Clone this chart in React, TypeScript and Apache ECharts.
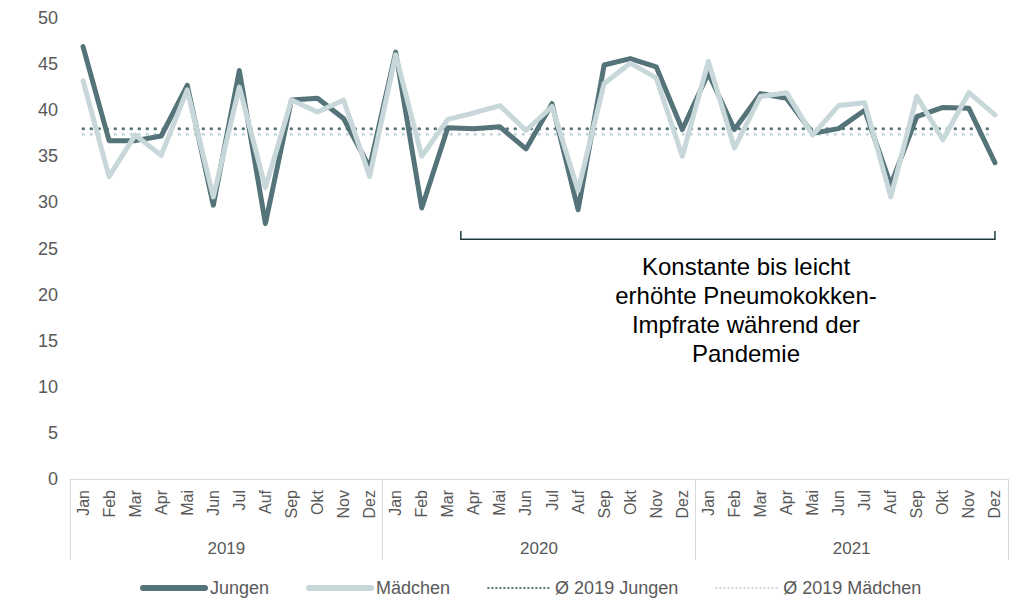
import React, { useEffect, useRef } from "react";
import * as echarts from "echarts";

const MONTHS = ["Jan", "Feb", "Mar", "Apr", "Mai", "Jun", "Jul", "Auf", "Sep", "Okt", "Nov", "Dez"];
const YEARS = ["2019", "2020", "2021"];
const JUNGEN = [
  46.9, 36.7, 36.7, 37.2, 42.7, 29.7, 44.3, 27.7, 41.1, 41.3, 39.1, 33.8,
  46.3, 29.4, 38.1, 38.0, 38.2, 35.8, 40.7, 29.2, 44.9, 45.6, 44.7, 37.9,
  44.0, 37.9, 41.8, 41.3, 37.5, 38.0, 40.0, 31.9, 39.3, 40.3, 40.2, 34.3,
];
const MAEDCHEN = [
  43.2, 32.8, 37.3, 35.1, 42.2, 30.6, 42.5, 31.6, 41.1, 39.8, 41.1, 32.8,
  46.0, 35.0, 39.0, 39.7, 40.5, 37.8, 40.4, 31.3, 42.9, 45.1, 43.5, 35.0,
  45.3, 35.9, 41.5, 41.9, 37.3, 40.5, 40.8, 30.6, 41.5, 36.8, 41.9, 39.5,
];
const AVG_JUNGEN_2019 = 38.0;
const AVG_MAEDCHEN_2019 = 37.4;
const ANNOTATION = "Konstante bis leicht\nerhöhte Pneumokokken-\nImpfrate während der\nPandemie";

const DARK = "#557479";
const LIGHT = "#c8d8da";
const GRAY = "#595959";
const FONT = "Liberation Sans, Arial, sans-serif";

export default function App() {
  const ref = useRef<HTMLDivElement>(null);
  useEffect(() => {
    if (!ref.current) return;
    const chart = echarts.init(ref.current, null, { renderer: "svg" });
    const cats = YEARS.flatMap((y) => MONTHS.map((m) => m + " " + y));
    const last = cats.length - 1;
    const dots = [0.5, 7.5];
    chart.setOption({
      animation: false,
      textStyle: { fontFamily: FONT },
      grid: { left: 70, right: 16, top: 18, bottom: 121, containLabel: false },
      legend: {
        top: 574,
        left: 135,
        itemWidth: 62,
        itemHeight: 12,
        itemGap: 37,
        itemStyle: { opacity: 0, borderWidth: 0 },
        textStyle: { color: GRAY, fontSize: 18, fontFamily: FONT },
        data: [
          { name: "Jungen", lineStyle: { width: 6 } },
          { name: "Mädchen", lineStyle: { width: 6 } },
          { name: "Ø 2019 Jungen", lineStyle: { width: 2, type: [0.5, 3.5] } },
          { name: "Ø 2019 Mädchen", lineStyle: { width: 2, type: [0.5, 3.5] } },
        ],
      },
      xAxis: [
        {
          type: "category",
          data: cats,
          boundaryGap: true,
          axisLine: { show: true, lineStyle: { color: "#d9d9d9", width: 1 } },
          axisTick: { show: false },
          axisLabel: {
            interval: 0,
            rotate: 90,
            margin: 11,
            color: GRAY,
            fontSize: 16,
            fontFamily: FONT,
            formatter: (v: string) => v.split(" ")[0],
          },
        },
        {
          type: "category",
          data: YEARS,
          position: "bottom",
          boundaryGap: true,
          axisLine: { show: false },
          axisTick: { show: true, interval: 0, length: 81, lineStyle: { color: "#d9d9d9", width: 1 } },
          axisLabel: { interval: 0, margin: 61, color: GRAY, fontSize: 17, fontFamily: FONT },
        },
      ],
      yAxis: {
        type: "value",
        min: 0,
        max: 50,
        interval: 5,
        splitLine: { show: false },
        axisLine: { show: false },
        axisTick: { show: false },
        axisLabel: { margin: 12, color: GRAY, fontSize: 18, fontFamily: FONT },
      },
      series: [
        {
          name: "Ø 2019 Jungen",
          type: "line",
          symbol: "none",
          data: [[0, AVG_JUNGEN_2019], [last, AVG_JUNGEN_2019]],
          lineStyle: { color: DARK, width: 3, type: dots, cap: "round" },
          itemStyle: { color: DARK },
          z: 1,
        },
        {
          name: "Ø 2019 Mädchen",
          type: "line",
          symbol: "none",
          data: [[0, AVG_MAEDCHEN_2019], [last, AVG_MAEDCHEN_2019]],
          lineStyle: { color: LIGHT, width: 3, type: dots, cap: "round" },
          itemStyle: { color: LIGHT },
          z: 1,
        },
        {
          name: "Jungen",
          type: "line",
          symbol: "none",
          data: JUNGEN,
          lineStyle: { color: DARK, width: 5, join: "round", cap: "round" },
          itemStyle: { color: DARK },
          z: 2,
        },
        {
          name: "Mädchen",
          type: "line",
          symbol: "none",
          data: MAEDCHEN,
          lineStyle: { color: LIGHT, width: 5, join: "round", cap: "round" },
          itemStyle: { color: LIGHT },
          z: 3,
        },
      ],
    });

    const xa = chart.convertToPixel({ xAxisIndex: 0 }, cats[14]) as number;
    const xb = chart.convertToPixel({ xAxisIndex: 0 }, cats[15]) as number;
    const xEnd = chart.convertToPixel({ xAxisIndex: 0 }, cats[last]) as number;
    const yLow = chart.convertToPixel({ yAxisIndex: 0 }, 26.0) as number;
    const yHigh = chart.convertToPixel({ yAxisIndex: 0 }, 26.9) as number;
    const xStart = (xa + xb) / 2;
    chart.setOption({
      graphic: [
        {
          type: "polyline",
          shape: { points: [[xStart, yHigh], [xStart, yLow], [xEnd, yLow], [xEnd, yHigh]] },
          style: { stroke: "#1f3a3c", lineWidth: 1.5, fill: null },
          z: 10,
        },
        {
          type: "text",
          x: 746,
          y: 252,
          style: {
            text: ANNOTATION,
            fill: "#000000",
            font: "24px " + FONT,
            align: "center",
            verticalAlign: "top",
            lineHeight: 29,
          },
          z: 10,
        },
      ],
    });
    return () => chart.dispose();
  }, []);
  return <div ref={ref} style={{ width: 1024, height: 600, position: "absolute", left: 0, top: 0 }} />;
}
